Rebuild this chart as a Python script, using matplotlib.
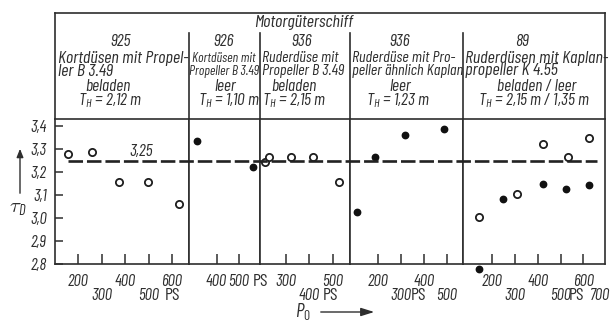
import matplotlib
matplotlib.use("Agg")
import matplotlib.pyplot as plt
import matplotlib.transforms as mtransforms
from matplotlib.patches import FancyArrowPatch
from matplotlib.ticker import FuncFormatter

# ---------------------------------------------------------------- data
# tau_D over P_0 (PS), one list pair per ship / test case
p1_open_P = [157, 260, 373, 498, 628]
p1_open_tau = [3.278, 3.288, 3.158, 3.158, 3.060]

p2_filled_P = [312, 564]
p2_filled_tau = [3.336, 3.220]

p3_open_P = [213, 230, 323, 417, 528]
p3_open_tau = [3.245, 3.265, 3.265, 3.265, 3.158]

p4_filled_P = [109, 187, 317, 487]
p4_filled_tau = [3.025, 3.267, 3.360, 3.388]

p5_open_P = [143, 310, 424, 533, 625]
p5_open_tau = [3.006, 3.104, 3.320, 3.267, 3.347]
p5_filled_P = [142, 248, 424, 524, 625]
p5_filled_tau = [2.780, 3.081, 3.148, 3.125, 3.143]

tau_mean = 3.25
y_ticks = [2.8, 2.9, 3.0, 3.1, 3.2, 3.3, 3.4]

# tick values per panel, and the label row (1 upper, 2 lower)
x_ticks = [
    [(200, 1), (300, 2), (400, 1), (500, 2), (600, 1)],
    [(400, 1), (500, 1)],
    [(300, 1), (400, 2), (500, 1)],
    [(200, 1), (300, 2), (400, 1), (500, 2)],
    [(200, 1), (300, 2), (400, 1), (500, 2), (600, 1)],
]

headers = [
    ("925", ["Kortdüsen mit Propel-", "ler B 3.49"], "beladen", "$T_H$ = 2,12 m"),
    ("926", ["Kortdüsen mit", "Propeller B 3.49"], "leer", "$T_H$ = 1,10 m"),
    ("936", ["Ruderdüse mit", "Propeller B 3.49"], "beladen", "$T_H$ = 2,15 m"),
    ("936", ["Ruderdüse mit Pro-", "peller ähnlich Kaplan"], "leer", "$T_H$ = 1,23 m"),
    ("89", ["Ruderdüsen mit Kaplan-", "propeller K 4.55"], "beladen / leer",
     "$T_H$ = 2,15 m / 1,35 m"),
]

# ---------------------------------------------------------------- layout (pixels)
W, H = 614, 324
edges = [55, 189, 260, 350, 463, 605]
top, head_y, bot = 13, 119, 264
# (reference value, its pixel, pixels per PS) for each panel's own scale
scales = [(200, 78, 0.235), (400, 216.5, 0.225), (300, 285.5, 0.235),
          (200, 378, 0.23), (200, 492.3, 0.2275)]
YLIM = (2.8, 2.8 + (bot - head_y) / 230.0)

INK = "#2e2e2e"
FONT = ["Barlow Condensed", "DejaVu Sans"]
plt.rcParams["font.family"] = FONT
plt.rcParams["mathtext.fontset"] = "custom"
plt.rcParams["mathtext.rm"] = "Barlow Condensed"
plt.rcParams["mathtext.it"] = "Barlow Condensed:italic"


def rect(x0, x1, y0, y1):
    return [x0 / W, 1 - y1 / H, (x1 - x0) / W, (y1 - y0) / H]


def fy(py):
    return 1 - py / H


def ftext(px, py, s, size=12.5, ha="center", style="italic", **kw):
    fig.text(px / W, fy(py), s, ha=ha, va="center", fontsize=size,
             style=style, color=INK, family=FONT, **kw)


fig = plt.figure(figsize=(W / 100, H / 100), dpi=100)

# header box
axh = fig.add_axes(rect(edges[0], edges[-1], top, head_y))
axh.set_xlim(edges[0], edges[-1])
axh.set_ylim(head_y, top)
axh.set_xticks([]); axh.set_yticks([])
for side in ["left", "right", "top"]:
    axh.spines[side].set_color(INK); axh.spines[side].set_linewidth(1.2)
axh.spines["bottom"].set_visible(False)
for xe in edges[1:-1]:
    axh.plot([xe, xe], [33, head_y], color=INK, lw=1.2)

ftext(304, 23, "Motorgüterschiff", size=13)

# per-panel header text: x of number, description lines (+align, size), state, draught
head_pos = [
    (121, 58, "left", 13, 108, 110),
    (224, 224, "center", 9.8, 225, 229),
    (302, 262, "left", 11.5, 294, 294),
    (400, 352, "left", 11.6, 400, 398),
    (522, 465, "left", 13, 537, 534),
]
for i, (num, lines, state, th) in enumerate(headers):
    xn, xl, al, sz, xs, xt = head_pos[i]
    ftext(xn, 42, num)
    ftext(xl, 58, lines[0], size=sz, ha=al)
    ftext(xl, 71, lines[1], size=sz, ha=al)
    ftext(xs, 86, state)
    ftext(xt, 101, th)

# data panels
panels = [
    [(p1_open_P, p1_open_tau, "open")],
    [(p2_filled_P, p2_filled_tau, "filled")],
    [(p3_open_P, p3_open_tau, "open")],
    [(p4_filled_P, p4_filled_tau, "filled")],
    [(p5_open_P, p5_open_tau, "open"), (p5_filled_P, p5_filled_tau, "filled")],
]
for i in range(5):
    xl, xr = edges[i], edges[i + 1]
    v0, px0, s = scales[i]
    ax = fig.add_axes(rect(xl, xr, head_y, bot))
    ax.set_xlim(v0 + (xl - px0) / s, v0 + (xr - px0) / s)
    ax.set_ylim(*YLIM)
    for sp in ax.spines.values():
        sp.set_color(INK); sp.set_linewidth(1.2)
    ax.set_xticks([t for t, _ in x_ticks[i]])
    ax.tick_params(axis="x", direction="in", length=7, width=1.1,
                   color=INK, labelbottom=False)
    if i == 0:
        ax.set_yticks(y_ticks)
        ax.yaxis.set_major_formatter(FuncFormatter(lambda v, _: f"{v:.1f}".replace(".", ",")))
        ax.tick_params(axis="y", direction="in", length=6, width=1.1, color=INK,
                       labelsize=12, labelcolor=INK, pad=6)
        for lab in ax.get_yticklabels():
            lab.set_style("italic")
    else:
        ax.set_yticks([])

    for P, tau, kind in panels[i]:
        if kind == "open":
            ax.plot(P, tau, "o", ms=5.2, mfc="white", mec="#1e1e1e", mew=1.3,
                    ls="none", clip_on=False, zorder=3)
        else:
            ax.plot(P, tau, "o", ms=4.6, mfc="#111111", mec="#111111",
                    ls="none", clip_on=False, zorder=3)

    trans = mtransforms.blended_transform_factory(ax.transData, fig.transFigure)
    for t, row in x_ticks[i]:
        ax.text(t, fy(281 if row == 1 else 295), str(t), transform=trans,
                ha="center", va="center", fontsize=12, style="italic", color=INK)

# "PS" units and the 700 label beyond the last panel
for px, py in [(172, 295), (261, 281), (331, 295), (419, 295), (577, 295)]:
    ftext(px, py, "PS", size=13, style="normal")
ftext(600, 295, "700", size=12)

# mean line across all panels
axo = fig.add_axes(rect(edges[0], edges[-1], head_y, bot))
axo.set_xlim(0, 1); axo.set_ylim(*YLIM)
axo.axis("off")
axo.axhline(tau_mean, xmin=0.024, xmax=0.985, color="#222222", lw=1.9,
            ls=(0, (5.5, 1.5)), zorder=4)
ftext(141, 151, "3,25", size=12.5)

# axis labels with arrows
ftext(18, 209, r"$\tau_D$", size=15, style="normal")
fig.add_artist(FancyArrowPatch(
    (20 / W, fy(196)), (20 / W, fy(146)), transform=fig.transFigure,
    arrowstyle="-|>,head_length=5,head_width=2", color=INK, lw=1.0))
ftext(303, 312, r"$P_0$", size=14, style="normal")
fig.add_artist(FancyArrowPatch(
    (318 / W, fy(312)), (377 / W, fy(312)), transform=fig.transFigure,
    arrowstyle="-|>,head_length=8,head_width=2.5", color=INK, lw=1.0))

fig.savefig("out.png", dpi=100)
